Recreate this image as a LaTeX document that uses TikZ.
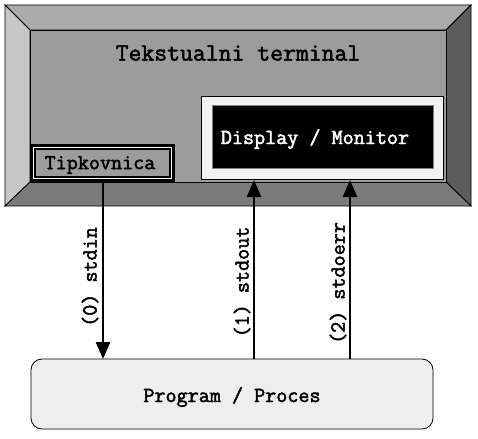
\documentclass[tikz,border=0pt]{standalone}
\usepackage{fontspec}
\newfontfamily\termfont{Latin Modern Mono}[AutoFakeBold=2.2]
\usetikzlibrary{arrows.meta}
\definecolor{bevtop}{HTML}{ABABAB}
\definecolor{bevleft}{HTML}{C6C6C6}
\definecolor{bevright}{HTML}{5C5C5C}
\definecolor{bevbottom}{HTML}{7B7B7B}
\definecolor{face}{HTML}{9C9C9C}
\definecolor{frame}{HTML}{F2F2F2}
\definecolor{procfill}{HTML}{EEEEEE}
\tikzset{
  lbl/.style={font=\termfont\bfseries\fontsize{21.5}{23}\selectfont, inner sep=0pt},
  flow/.style={line width=2.8pt, -{Triangle[length=17pt,width=14pt]}},
  bevel/.style={draw=black, line width=0.8pt, line join=miter}
}
\begin{document}
\begin{tikzpicture}[x=1pt,y=-1pt]
\useasboundingbox (0,0) rectangle (478,438);
\fill[white] (0,0) rectangle (478,438);

% bevelled terminal frame
\filldraw[bevel, fill=bevtop]    (5,5) -- (471,5) -- (446,30) -- (30,30) -- cycle;
\filldraw[bevel, fill=bevleft]   (5,5) -- (30,30) -- (30,182) -- (5,206) -- cycle;
\filldraw[bevel, fill=bevright]  (471,5) -- (471,206) -- (446,182) -- (446,30) -- cycle;
\filldraw[bevel, fill=bevbottom] (5,206) -- (30,182) -- (446,182) -- (471,206) -- cycle;
\filldraw[bevel, fill=face] (30,30) rectangle (446,182);
\node[lbl, font=\termfont\bfseries\fontsize{25}{27}\selectfont] (term) at (238,53) {Tekstualni terminal};

% monitor
\filldraw[draw=black, line width=0.8pt, fill=frame] (201,96) rectangle (443,179);
\filldraw[draw=gray, line width=1pt, fill=black] (212,106) rectangle (433,169);
\node[lbl, text=white] (disp) at (315,139) {Display / Monitor};
\coordinate (mon1) at (254,180);
\coordinate (mon2) at (350,180);

% keyboard
\filldraw[draw=black, line width=3pt, fill=white] (31,145.5) rectangle (173.5,180.5);
\filldraw[draw=black, line width=2pt, fill=face] (35,149) rectangle (170,177);
\node[lbl] (kbd) at (100,165) {Tipkovnica};
\coordinate (kbdout) at (103,182);

% process
\node[draw=black, line width=0.8pt, fill=procfill, rounded corners=11pt,
      minimum width=402pt, minimum height=70pt, inner sep=0pt] (proc) at (232,394) {};
\node[lbl] (proctxt) at (232,397) {Program / Proces};
\coordinate (pin) at (103,359);
\coordinate (p1) at (254,359);
\coordinate (p2) at (350,359);

% streams
\draw[flow] (kbdout) -- (pin);
\draw[flow] (p1) -- (mon1);
\draw[flow] (p2) -- (mon2);
\node[lbl, rotate=90] (s0) at (90,277) {(0) stdin};
\node[lbl, rotate=90] (s1) at (242,282) {(1) stdout};
\node[lbl, rotate=90] (s2) at (338,283) {(2) stdoerr};
\end{tikzpicture}
\end{document}
